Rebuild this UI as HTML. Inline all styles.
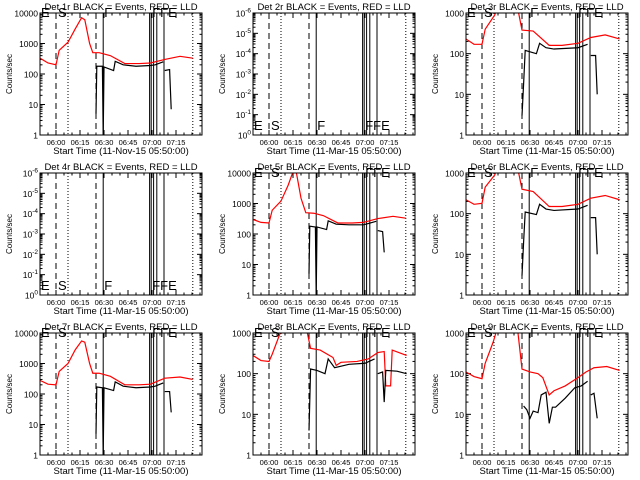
<!DOCTYPE html>
<html><head><meta charset="utf-8"><style>
html,body{margin:0;padding:0;background:#fff;width:640px;height:480px;overflow:hidden}
svg{display:block;font-family:"Liberation Sans",sans-serif}
</style></head><body>
<svg id="chart" width="640" height="480" viewBox="0 0 640 480" xmlns="http://www.w3.org/2000/svg"></svg>
<script>
// minutes after 05:50
const xTickLabels = ["06:00","06:15","06:30","06:45","07:00","07:15"];
const xTickMinutes = [10,25,40,55,70,85];
const dashedMarks = [10,35];
const dottedMarks = [17.5,95.5];
const solidMarks = [39.5,68.5,69.5,71,73,77.5];
const titles = ["Det 1r","Det 2r","Det 3r","Det 4r","Det 5r","Det 6r","Det 7r","Det 8r","Det 9r"];
const dateLabels = ["11-Nov-15","11-Mar-15","11-Mar-15","11-Mar-15","11-Mar-15","11-Mar-15","11-Mar-15","11-Mar-15","11-Mar-15"];
const yMaxDecade = [4,0,3,0,4,3,4,3,3];
const red1 = [[0,330],[5,230],[10,200],[12,600],[17.5,1100],[22,3000],[26,7000],[28,6000],[31,1000],[33,500],[37,500],[44,400],[53,220],[62,220],[69,230],[78,300],[87.5,380],[95.5,330]];
const black1 = [[[35,5],[35.5,180],[39,180],[39.5,1],[40,170],[46,130],[47,260],[52,200],[60,180],[69,190],[72,200],[77,250]],[[78,130],[81,140],[82,7]]];
const red5 = [[0,300],[5,240],[10,230],[12,600],[17.5,1200],[22,4000],[25,11000],[27,11000],[30,1500],[33,500],[38,480],[44,400],[53,230],[62,230],[69,240],[78,320],[87.5,380],[95.5,330]];
const black5 = [[[35,5],[35.5,180],[39,170],[39.5,1],[40,170],[46,140],[47,270],[52,210],[60,200],[69,200],[72,220],[77,260]],[[78,130],[81,120],[82,25]]];
const red7 = [[0,280],[5,210],[10,200],[12,550],[17.5,1000],[22,2800],[26,5500],[28,5000],[31,1000],[33,480],[37,480],[44,380],[53,200],[62,200],[69,210],[78,330],[87.5,360],[95.5,300]];
const black7 = [[[35,5],[35.5,170],[39,160],[39.5,1],[40,160],[46,130],[47,250],[52,180],[60,160],[69,170],[72,180],[77,230]],[[78,120],[81,120],[82,25]]];
const red3 = [[0,230],[5,170],[10,170],[12,400],[18,900],[20,1500],[32,1500],[35,380],[42,360],[52,160],[60,160],[70,180],[78,250],[87,290],[96,230]];
const black3 = [[[35,3],[36,18],[37,120],[44,100],[46,180],[50,140],[55,130],[70,140],[76,170]],[[78,90],[81,90],[82,10]]];
const red6 = [[0,220],[5,170],[10,180],[12,450],[18,900],[20,1500],[32,1500],[35,400],[42,350],[52,150],[60,150],[70,170],[78,240],[87,280],[96,220]];
const black6 = [[[35,3],[36,20],[37,110],[44,95],[46,170],[50,130],[55,120],[70,130],[76,160]],[[78,80],[81,80],[82,10]]];
const red8 = [[0,280],[5,210],[10,200],[12,300],[17,1000],[20,1500],[33,1500],[36,420],[42,380],[50,250],[52,160],[55,190],[65,200],[72,230],[78,330],[82,350],[83,50],[86,50],[87,380],[96,280]];
const black8 = [[[35,4],[36,130],[40,120],[45,100],[47,230],[51,140],[60,170],[70,180],[76,230]],[[78,100],[81,110],[82,20],[83,120],[90,115],[96,100]]];
const red9 = [[0,110],[5,85],[10,75],[12,180],[17,600],[20,1500],[32,1500],[35,130],[40,110],[45,100],[48,80],[52,30],[55,38],[62,50],[70,80],[75,110],[80,140],[88,150],[96,120]];
const black9 = [[[36,16],[38,13],[40,8],[42,12],[45,11],[47,30],[50,35],[52,6],[54,15],[56,15],[62,25],[68,45],[72,50],[76,65]],[[78,30],[80,33],[82,8]]];
const redSeries = [red1,null,red3,null,red5,red6,red7,red8,red9];
const blackSeries = [black1,null,black3,null,black5,black6,black7,black8,black9];

const NS="http://www.w3.org/2000/svg";
const svg=document.getElementById('chart');
function mk(tag,attrs,parent){const e=document.createElementNS(NS,tag);for(const k in attrs)e.setAttribute(k,attrs[k]);(parent||svg).appendChild(e);return e;}

for(let p=0;p<9;p++){
  const ox=(p%3)*213, oy=Math.floor(p/3)*160;
  const L=ox+40,R=ox+202,T=oy+13,B=oy+135;
  const g=mk('g',{});
  
  
  const xs=m=>L+m*1.6;
  const empty=redSeries[p]===null;
  const top=yMaxDecade[p];
  const bottomDec= empty? -6 : 0;
  const ys=v=>B-(Math.log10(v)-bottomDec)/(top-bottomDec)*(B-T);
  const clipId='clip'+p;
  const cp=mk('clipPath',{id:clipId},g);mk('rect',{x:L,y:T,width:R-L,height:B-T},cp);
  // letters (drawn first, beneath title)
  const ly= empty? B-5 : T+4;
  [["E",L+1],["S",xs(10)+2],["F",xs(39.5)+1],["FFE",xs(69.5)+1]].forEach(([s,x])=>{
    const lt=mk('text',{x:x,y:ly,'font-size':'13'},g);lt.textContent=s;
    
    
  });
  // title
  const t=mk('text',{x:ox+121,y:oy+10,'text-anchor':'middle','font-size':'9.5'},g);
  t.textContent=titles[p]+" BLACK = Events, RED = LLD";
  
  
  const xl=mk('text',{x:ox+121,y:oy+154,'text-anchor':'middle','font-size':'9.5'},g);
  xl.textContent="Start Time ("+dateLabels[p]+" 05:50:00)";
  
  
  const yl=mk('text',{x:ox+12,y:oy+74,'text-anchor':'middle','font-size':'8',transform:`rotate(-90 ${ox+12} ${oy+74})`},g);
  yl.textContent="Counts/sec";
  
  
  // x ticks
  for(let m=0;m<=100;m+=5){
    const major=xTickMinutes.includes(m);const len=major?5:2.5;
    mk('line',{x1:xs(m),x2:xs(m),y1:B,y2:B-len,stroke:'#000','stroke-width':1},g);
    mk('line',{x1:xs(m),x2:xs(m),y1:T,y2:T+len,stroke:'#000','stroke-width':1},g);
  }
  xTickMinutes.forEach((m,i)=>{
    const tx=mk('text',{x:xs(m),y:B+10,'text-anchor':'middle','font-size':'7.5'},g);
    tx.textContent=xTickLabels[i];
    
    
  });
  // y ticks
  for(let d=bottomDec;d<=top;d++){
    const y=B-(d-bottomDec)/(top-bottomDec)*(B-T);
    mk('line',{x1:L,x2:L+5,y1:y,y2:y,stroke:'#000'},g);
    mk('line',{x1:R,x2:R-5,y1:y,y2:y,stroke:'#000'},g);
    if(d<top){for(let k=2;k<10;k++){const yy=B-(d+Math.log10(k)-bottomDec)/(top-bottomDec)*(B-T);
      mk('line',{x1:L,x2:L+2.5,y1:yy,y2:yy,stroke:'#000'},g);mk('line',{x1:R,x2:R-2.5,y1:yy,y2:yy,stroke:'#000'},g);}}
    const ty=mk('text',{x:L-2,y:y+3.5,'text-anchor':'end','font-size':'8.5'},g);
    if(empty){ty.textContent='10';const s=mk('tspan',{dy:-4,'font-size':'6.5'},ty);const ex=-(d+6);s.textContent=ex===0?'0':String(ex);}
    else ty.textContent=String(Math.pow(10,d));
    
    
  }
  // markers
  dashedMarks.forEach(m=>mk('line',{x1:xs(m),x2:xs(m),y1:T,y2:B,stroke:'#000','stroke-dasharray':'6,4'},g));
  dottedMarks.forEach(m=>mk('line',{x1:xs(m),x2:xs(m),y1:T,y2:B,stroke:'#000','stroke-dasharray':'1,2'},g));
  solidMarks.forEach(m=>mk('line',{x1:xs(m),x2:xs(m),y1:T,y2:B,stroke:'#000','stroke-width':1},g));
  // data
  if(!empty){
    const dg=mk('g',{'clip-path':`url(#${clipId})`},g);
    const rp=mk('polyline',{points:redSeries[p].map(([m,v])=>xs(m)+','+ys(v)).join(' '),fill:'none',stroke:'#ff0000','stroke-width':1.2},dg);
    
    
    blackSeries[p].forEach(seg=>{
      const bp=mk('polyline',{points:seg.map(([m,v])=>xs(m)+','+ys(v)).join(' '),fill:'none',stroke:'#000','stroke-width':1.2},dg);
      
      
    });
  }
  const box=mk('rect',{x:L,y:T,width:R-L,height:B-T,fill:'none',stroke:'#000','stroke-width':1},g);
  
  
}
</script>
</body></html>
